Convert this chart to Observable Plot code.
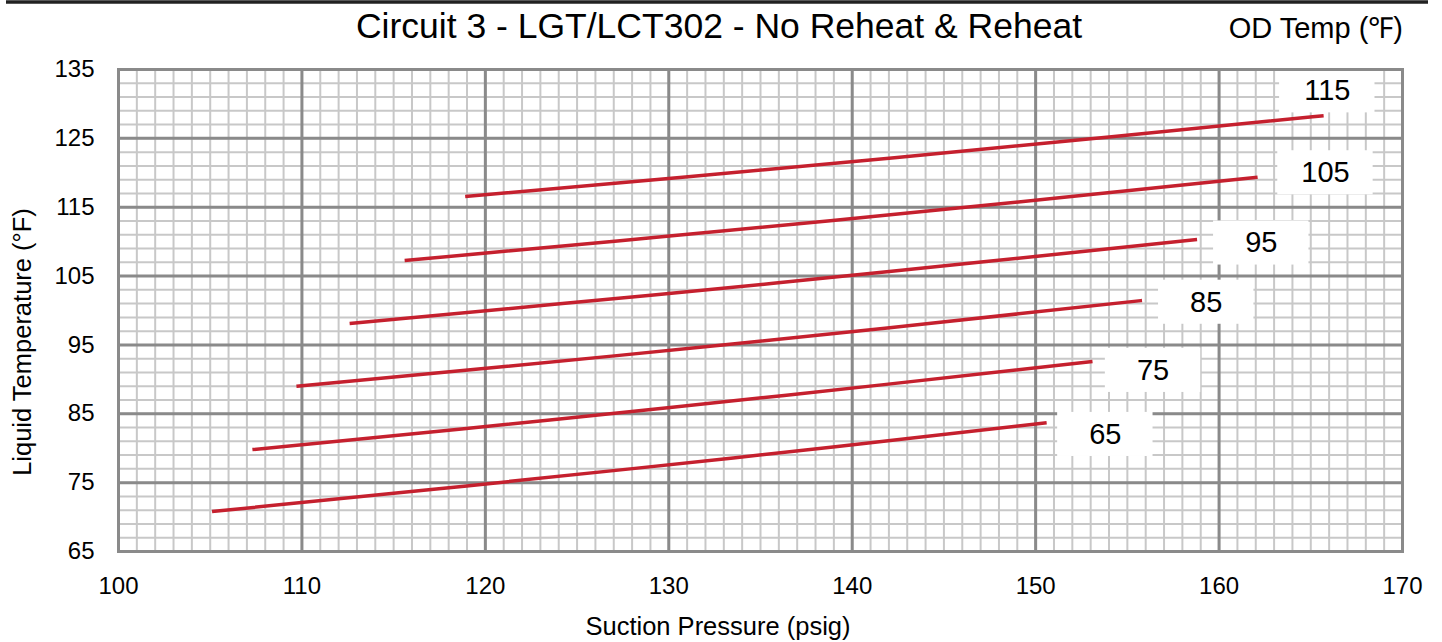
<!DOCTYPE html>
<html><head><meta charset="utf-8">
<script src="https://cdn.jsdelivr.net/npm/d3@7"></script>
<script src="https://cdn.jsdelivr.net/npm/@observablehq/plot@0.6"></script>
<style>body{margin:0;background:#fff} svg{display:block}</style>
</head><body><div id="chart"></div>
<script>
// Outdoor temperature series (°F)
const odTemps = ["65", "75", "85", "95", "105", "115"];
// Suction pressure (psig) / liquid temperature (°F) readings per series
const suction65  = [105.1, 116.5, 127.9, 139.2, 150.6];
const liquid65   = [70.8, 73.85, 77.0, 80.25, 83.7];
const suction75  = [107.3, 118.7, 130.2, 141.6, 153.1];
const liquid75   = [79.8, 82.8, 85.95, 89.2, 92.6];
const suction85  = [109.7, 121.2, 132.8, 144.3, 155.8];
const liquid85   = [89.0, 91.9, 94.95, 98.15, 101.45];
const suction95  = [112.6, 124.2, 135.7, 147.3, 158.8];
const liquid95   = [98.1, 101.0, 103.95, 107.1, 110.3];
const suction105 = [115.6, 127.2, 138.8, 150.5, 162.1];
const liquid105  = [107.25, 110.1, 113.05, 116.15, 119.35];
const suction115 = [118.9, 130.6, 142.3, 154.0, 165.7];
const liquid115  = [116.55, 119.3, 122.2, 125.2, 128.3];
// Series label anchors (data units)
const labelSuction = [153.8, 156.4, 159.3, 162.3, 165.8, 165.9];
const labelLiquid  = [82.0, 91.3, 101.2, 109.8, 120.0, 131.9];
// Axis ticks
const xTicks = [100, 110, 120, 130, 140, 150, 160, 170];
const yTicks = [65, 75, 85, 95, 105, 115, 125, 135];
const xMinor = d3.range(100, 171, 1);
const yMinor = d3.range(65, 136, 2);

const titleText = "Circuit 3 - LGT/LCT302 - No Reheat & Reheat";
const legendTitle = "OD Temp (\u2109)";
const xTitle = "Suction Pressure (psig)";
const yTitle = "Liquid Temperature (°F)";

const sx = [suction65, suction75, suction85, suction95, suction105, suction115];
const sy = [liquid65, liquid75, liquid85, liquid95, liquid105, liquid115];
const rows = [];
odTemps.forEach((od, i) => sx[i].forEach((p, j) => rows.push({od, p, t: sy[i][j]})));
const labels = odTemps.map((od, i) => ({od, x: labelSuction[i], y: labelLiquid[i]}));

const font = "'Liberation Sans', Arial, sans-serif";
const red = "#c5202e";
const major = "#8a8a8a";
const minor = "#c8c8c8";

const chart = Plot.plot({
  width: 1442, height: 642,
  marginLeft: 118, marginRight: 40, marginTop: 69, marginBottom: 91,
  x: {domain: [100, 170]},
  y: {domain: [65, 135]},
  style: {fontFamily: font, background: "white", color: "black"},
  marks: [
    Plot.ruleX(xMinor, {stroke: minor, strokeWidth: 2}),
    Plot.ruleY(yMinor, {stroke: minor, strokeWidth: 2}),
    Plot.ruleX(xTicks, {stroke: major, strokeWidth: 3}),
    Plot.ruleY(yTicks, {stroke: major, strokeWidth: 3}),
    Plot.line(rows, {x: "p", y: "t", z: "od", stroke: red, strokeWidth: 3.5, curve: "natural", strokeLinecap: "butt"}),
    Plot.rect(labels, {x1: d => d.x - 2.6, x2: d => d.x + 2.6, y1: d => d.y - 3.2, y2: d => d.y + 3.2, fill: "white"}),
    Plot.text(labels, {x: "x", y: "y", text: "od", fontSize: 29, fill: "black"}),
    Plot.frame({stroke: major, strokeWidth: 3}),
    Plot.axisX({ticks: xTicks, tickSize: 0, tickPadding: 25, fontSize: 24, label: null, tickFormat: d => String(d)}),
    Plot.axisY({ticks: yTicks, tickSize: 0, tickPadding: 24, fontSize: 24, label: null, tickFormat: d => String(d)})
  ]
});

const svg = d3.select(chart);
svg.append("line").attr("x1", 6).attr("x2", 1428).attr("y1", 2).attr("y2", 2)
  .attr("stroke", "#222").attr("stroke-width", 3.5);
svg.append("text").attr("x", 719).attr("y", 38).attr("text-anchor", "middle")
  .attr("font-family", font).attr("font-size", 35.5).attr("fill", "black").text(titleText);
svg.append("text").attr("x", 1403).attr("y", 38).attr("text-anchor", "end")
  .attr("font-family", font).attr("font-size", 29).attr("fill", "black").text(legendTitle);
svg.append("text").attr("x", 718).attr("y", 635).attr("text-anchor", "middle")
  .attr("font-family", font).attr("font-size", 25.5).attr("fill", "black").text(xTitle);
svg.append("text").attr("transform", "translate(31,342) rotate(-90)").attr("text-anchor", "middle")
  .attr("font-family", font).attr("font-size", 25.5).attr("fill", "black").text(yTitle);

document.getElementById("chart").appendChild(chart);
</script>
</body></html>
